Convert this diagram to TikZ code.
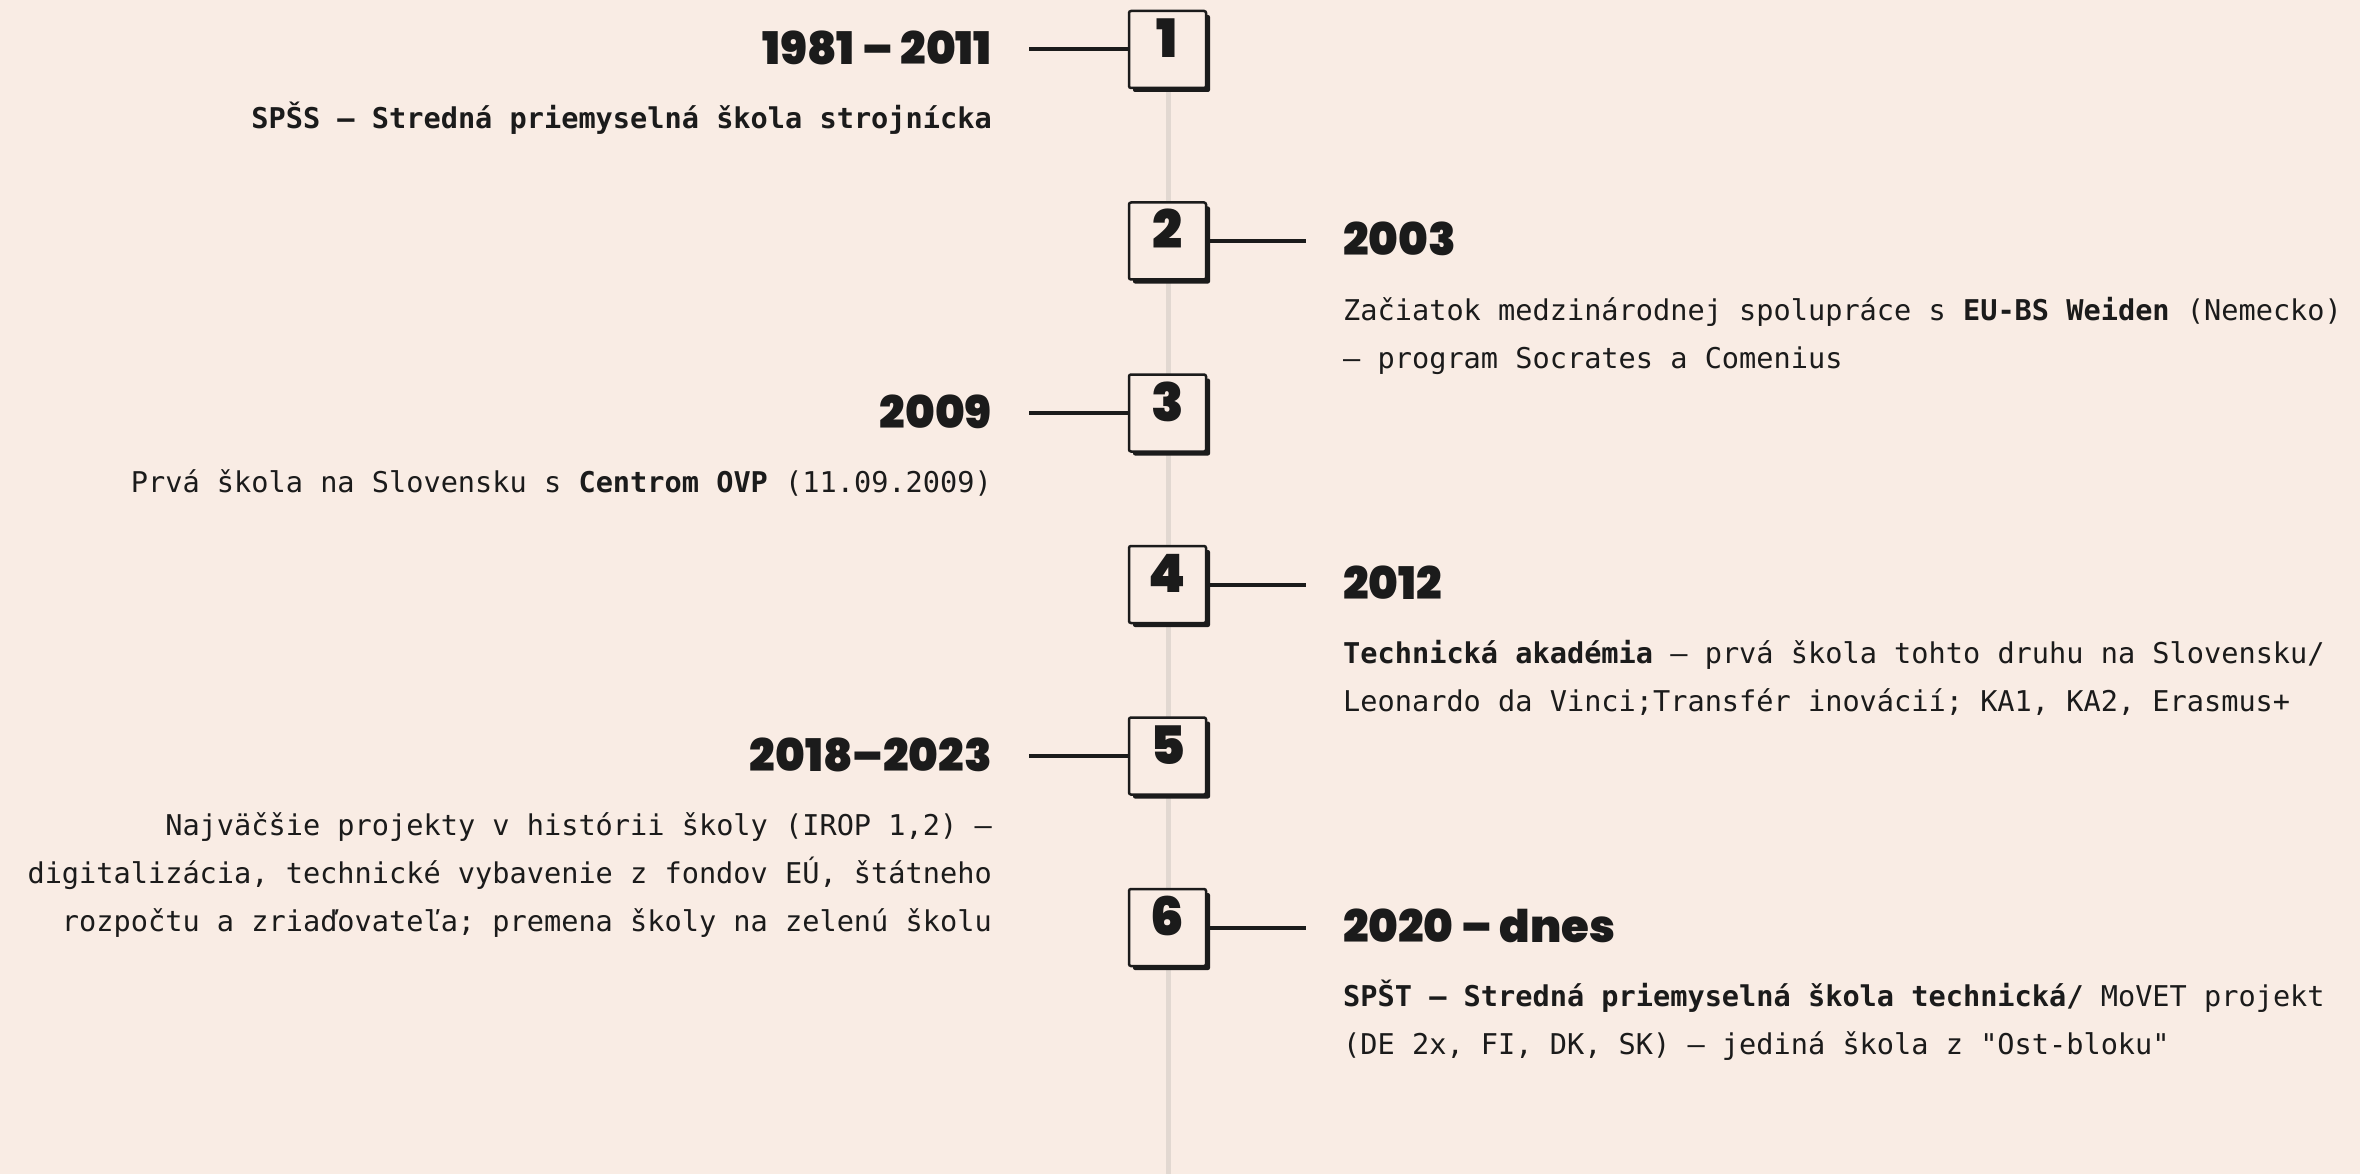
\documentclass[tikz,border=0pt]{standalone}
\usepackage{fontspec}
\setmonofont{DejaVu Sans Mono}
\newfontfamily\headfont{Poppins Black}
\usetikzlibrary{shadows}
\definecolor{bg}{HTML}{F9ECE4}
\definecolor{ink}{HTML}{1B1B1B}
\definecolor{rail}{HTML}{E2D8D1}
\newcommand\bodysize{\ttfamily\fontsize{28.6}{48}\selectfont}
\begin{document}
\begin{tikzpicture}[x=1pt,y=-1pt,
  numbox/.style={draw=ink, line width=2.5pt, fill=bg, rounded corners=2pt,
    minimum width=77pt, minimum height=77pt, inner sep=0pt,
    general shadow={fill=ink, shadow xshift=4pt, shadow yshift=-4pt},
    font=\headfont\fontsize{53}{53}\selectfont, text=ink,
    text height=30pt, text depth=14pt},
  head/.style={font=\headfont\fontsize{45}{45}\selectfont, text=ink, inner sep=0pt},
  body/.style={font=\bodysize, text=ink, inner sep=0pt},
  conn/.style={draw=ink, line width=4pt}
]
\fill[bg] (0,0) rectangle (2360,1174);
\useasboundingbox (0,0) rectangle (2360,1174);

% rail
\coordinate (railtop) at (1168,49.5);
\coordinate (railend) at (1168,1174);
\draw[rail, line width=5pt] (railtop) -- (railend);

% boxes
\node[numbox] (b1) at (1167.5,49.5) {1};
\node[numbox] (b2) at (1167.5,241) {2};
\node[numbox] (b3) at (1167.5,413) {3};
\node[numbox] (b4) at (1167.5,584.5) {4};
\node[numbox] (b5) at (1167.5,756) {5};
\node[numbox] (b6) at (1167.5,927.5) {6};

% connectors
\coordinate (c1) at (1029,49.5);
\coordinate (c2) at (1306,241);
\coordinate (c3) at (1029,413);
\coordinate (c4) at (1306,584.5);
\coordinate (c5) at (1029,756);
\coordinate (c6) at (1306,927.5);
\draw[conn] (c1) -- (b1.west);
\draw[conn] (b2.east) -- (c2);
\draw[conn] (c3) -- (b3.west);
\draw[conn] (b4.east) -- (c4);
\draw[conn] (c5) -- (b5.west);
\draw[conn] (b6.east) -- (c6);

% 1
\node[head, anchor=base east] (h1) at (992,64.5) {1981 – 2011};
\node[body, anchor=base east] (t1a) at (992,128.5) {\textbf{SPŠS – Stredná priemyselná škola strojnícka}};
% 2
\node[head, anchor=base west] (h2) at (1343,256) {2003};
\node[body, anchor=base west] (t2a) at (1343,320) {Začiatok medzinárodnej spolupráce s \textbf{EU-BS Weiden} (Nemecko)};
\node[body, anchor=base west] (t2b) at (1343,368) {– program Socrates a Comenius};
% 3
\node[head, anchor=base east] (h3) at (992,428) {2009};
\node[body, anchor=base east] (t3a) at (992,492) {Prvá škola na Slovensku s \textbf{Centrom OVP} (11.09.2009)};
% 4
\node[head, anchor=base west] (h4) at (1343,599.5) {2012};
\node[body, anchor=base west] (t4a) at (1343,663.5) {\textbf{Technická akadémia} – prvá škola tohto druhu na Slovensku/};
\node[body, anchor=base west] (t4b) at (1343,711.5) {Leonardo da Vinci;Transfér inovácií; KA1, KA2, Erasmus+};
% 5
\node[head, anchor=base east] (h5) at (992,771) {2018–2023};
\node[body, anchor=base east] (t5a) at (992,835) {Najväčšie projekty v histórii školy (IROP 1,2) –};
\node[body, anchor=base east] (t5b) at (992,883) {digitalizácia, technické vybavenie z fondov EÚ, štátneho};
\node[body, anchor=base east] (t5c) at (992,931) {rozpočtu a zriaďovateľa; premena školy na zelenú školu};
% 6
\node[head, anchor=base west] (h6) at (1343,942.5) {2020 – dnes};
\node[body, anchor=base west] (t6a) at (1343,1006.5) {\textbf{SPŠT – Stredná priemyselná škola technická/} MoVET projekt};
\node[body, anchor=base west] (t6b) at (1343,1054.5) {(DE 2x, FI, DK, SK) – jediná škola z "Ost-bloku"};
\end{tikzpicture}
\end{document}
